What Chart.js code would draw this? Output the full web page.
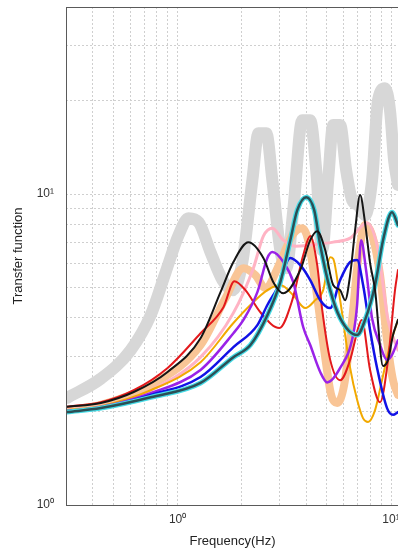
<!DOCTYPE html>
<html><head><meta charset="utf-8">
<script src="https://cdn.jsdelivr.net/npm/chart.js@4"></script>
<style>html,body{margin:0;padding:0;background:#fff;overflow:hidden;width:398px;height:551px}
#wrap{width:410px;height:551px}</style></head>
<body><div id="wrap"><canvas id="c" width="410" height="551"></canvas></div>
<script>
const xTicks=[0.3,0.4,0.5,0.6,0.7,0.8,0.9,1,2,3,4,5,6,7,8,9,10];
const yTicks=[1,2,3,4,5,6,7,8,9,10,20,30,40];
const tickText={1:'10\u2070',10:'10\u00B9'};

const grayF=[0.303,0.437,0.603,0.748,0.879,1.011,1.126,1.254,1.426,1.623,1.807,2.012,2.241,2.391,2.606,2.779,3.029,3.231,3.484,3.838,4.183,4.462,4.760,5.077,5.358,5.777,6.162,6.574,7.012,7.560,8.151,8.696,9.376,9.892,10.33,10.78];
const grayV=[2.21,2.55,3.15,4.08,5.61,7.38,8.37,8.13,6.51,5.29,4.91,6.05,11.1,15.7,15.7,11.1,6.61,5.78,8.88,17.3,17.3,11.95,6.61,11.1,16.7,16.7,11.95,9.57,9.22,8.56,11.1,20.1,21.9,18.6,12.9,10.7];

const peachF=[0.303,0.437,0.748,1.281,1.676,2.034,2.315,2.578,3.029,3.446,3.838,4.094,4.462,4.863,5.244,5.594,6.030,6.574,7.012,7.560,8.151,8.885,9.579,10.22,10.78];
const peachV=[2.02,2.10,2.43,3.27,4.63,5.78,5.49,4.99,6.05,7.38,7.77,7.11,4.91,3.15,2.26,2.13,2.43,3.94,6.14,7.95,7.38,5.49,3.39,2.52,2.26];

const pinkF=[0.303,0.437,0.748,1.281,1.826,2.265,2.523,2.779,3.128,3.559,4.183,5.358,6.433,7.726,8.696,9.683,10.78];
const pinkV=[2.02,2.08,2.34,2.99,4.15,5.78,7.33,7.77,7.11,6.80,6.86,7.01,7.22,8.07,6.61,3.94,3.15];

const redF=[0.303,0.437,0.623,0.898,1.281,1.640,1.846,2.079,2.443,2.997,3.446,3.880,4.183,4.510,4.760,5.188,5.777,6.433,7.012,7.290,7.979,8.885,9.683,10.44,10.78];
const redV=[2.07,2.14,2.34,2.76,3.57,4.33,5.25,4.91,4.17,3.71,4.56,6.37,7.33,5.91,4.24,2.93,2.52,2.93,3.70,3.94,2.72,2.14,2.93,4.91,5.70];

const blackF=[0.303,0.437,0.623,0.898,1.281,1.589,1.826,2.147,2.523,2.809,3.128,3.757,4.183,4.510,4.916,5.358,5.777,6.095,6.433,6.789,7.164,7.560,7.979,8.419,9.176,9.683,10.22,10.78];
const blackV=[2.07,2.13,2.31,2.68,3.44,4.84,6.05,7.00,6.23,5.21,4.80,5.70,7.11,7.60,6.61,5.10,4.91,4.56,5.49,7.66,9.93,8.07,6.00,4.91,2.80,2.93,3.52,3.94];

const goldF=[0.303,0.437,0.748,1.281,1.826,2.194,2.634,3.029,3.484,3.964,4.415,4.811,5.188,5.358,5.777,6.433,6.936,7.400,7.808,8.419,9.077,9.892,10.78];
const goldV=[2.02,2.08,2.34,2.88,3.85,4.40,4.91,5.10,4.73,4.30,4.56,4.91,6.27,6.20,4.56,2.76,2.18,1.90,1.85,2.02,2.52,3.27,3.94];

const purpleF=[0.303,0.437,0.748,1.281,1.826,2.034,2.365,2.634,2.779,3.128,3.484,3.880,4.183,4.658,5.022,5.777,6.644,6.936,7.240,7.640,8.151,8.885,9.579,10.11,10.78];
const purpleV=[2.006,2.066,2.29,2.72,3.57,3.94,4.84,6.23,6.51,6.05,5.21,3.73,3.27,2.68,2.48,2.76,3.52,4.40,7.11,5.70,3.99,3.27,2.93,3.04,3.39];

const blueF=[0.303,0.437,0.748,1.281,1.826,2.365,2.634,2.933,3.373,3.757,4.183,4.658,5.188,5.777,6.433,6.936,7.400,7.979,8.603,9.579,10.22,10.78];
const blueV=[2.006,2.05,2.26,2.58,3.22,3.79,4.40,4.99,6.23,5.91,5.29,4.56,4.30,5.29,6.05,6.14,5.10,3.65,2.76,2.05,1.95,1.99];

const tealF=[0.303,0.437,0.748,1.281,1.826,2.194,2.634,3.029,3.373,3.637,4.007,4.367,4.658,5.188,5.777,6.936,7.560,8.419,9.176,10.11,10.78];
const tealV=[1.99,2.05,2.22,2.47,2.99,3.27,4.08,5.21,7.11,8.88,9.78,8.88,6.86,4.91,3.99,3.52,3.94,5.10,7.11,8.75,7.95];

function pts(f,v){return f.map((x,i)=>({x:x,y:v[i]}));}
function ds(f,v,color,width,order){
  return {data:pts(f,v),borderColor:color,borderWidth:width,pointRadius:0,fill:false,
    cubicInterpolationMode:'monotone',order:order,borderJoinStyle:'round',borderCapStyle:'round'};
}
function noPad(s){s.paddingTop=0;s.paddingBottom=0;s.paddingLeft=0;s.paddingRight=0;}

const frame={id:'frame',afterDatasetsDraw(ch){const a=ch.chartArea,c=ch.ctx;c.save();c.setLineDash([]);
  c.strokeStyle='#5a5a5a';c.lineWidth=1;c.strokeRect(a.left+0.5,a.top+0.5,a.right-a.left,a.bottom-a.top);c.restore();}};

const font='"Liberation Sans", Arial, sans-serif';
new Chart(document.getElementById('c'),{
  type:'line',
  data:{datasets:[
    ds(grayF,grayV,'#d7d7d7',12,20),
    ds(peachF,peachV,'#f9c596',8,19),
    ds(pinkF,pinkV,'#ffb3c4',3,18),
    ds(goldF,goldV,'#f2a900',2,17),
    ds(redF,redV,'#e3191c',2,16),
    ds(purpleF,purpleV,'#9a22e8',2.5,15),
    ds(blueF,blueV,'#1212e6',2.5,14),
    ds(tealF,tealV,'#45dbe6',5,13),
    ds(tealF,tealV,'#2c4f55',2.5,12),
    ds(blackF,blackV,'#151515',2,11)
  ]},
  plugins:[frame],
  options:{
    responsive:false,animation:false,
    layout:{padding:{left:0,right:11,top:7,bottom:0}},
    plugins:{legend:{display:false},tooltip:{enabled:false}},
    scales:{
      x:{type:'logarithmic',min:0.3,max:10.9,
        afterBuildTicks(s){s.ticks=xTicks.map(v=>({value:v}));},
        afterFit(s){s.height=46;noPad(s);},
        grid:{color:'#cfcfcf',lineWidth:1,drawTicks:false},
        border:{display:false,dash:[2,2]},
        ticks:{autoSkip:false,maxRotation:0,padding:7,color:'#333',font:{family:font,size:12},
          callback:(v)=>tickText[v]||''},
        title:{display:true,text:'Frequency(Hz)',color:'#222',font:{family:font,size:13},padding:{top:0,bottom:2}}
      },
      y:{type:'logarithmic',min:1,max:40,
        afterBuildTicks(s){s.ticks=yTicks.map(v=>({value:v}));},
        afterFit(s){s.width=66;noPad(s);},
        grid:{color:'#cfcfcf',lineWidth:1,drawTicks:false},
        border:{display:false,dash:[2,2]},
        ticks:{autoSkip:false,padding:12,color:'#333',font:{family:font,size:12},
          callback:(v)=>tickText[v]||''},
        title:{display:true,text:'Transfer function',color:'#222',font:{family:font,size:13},padding:{top:11,bottom:0}}
      }
    }
  }
});
</script>
</body></html>
